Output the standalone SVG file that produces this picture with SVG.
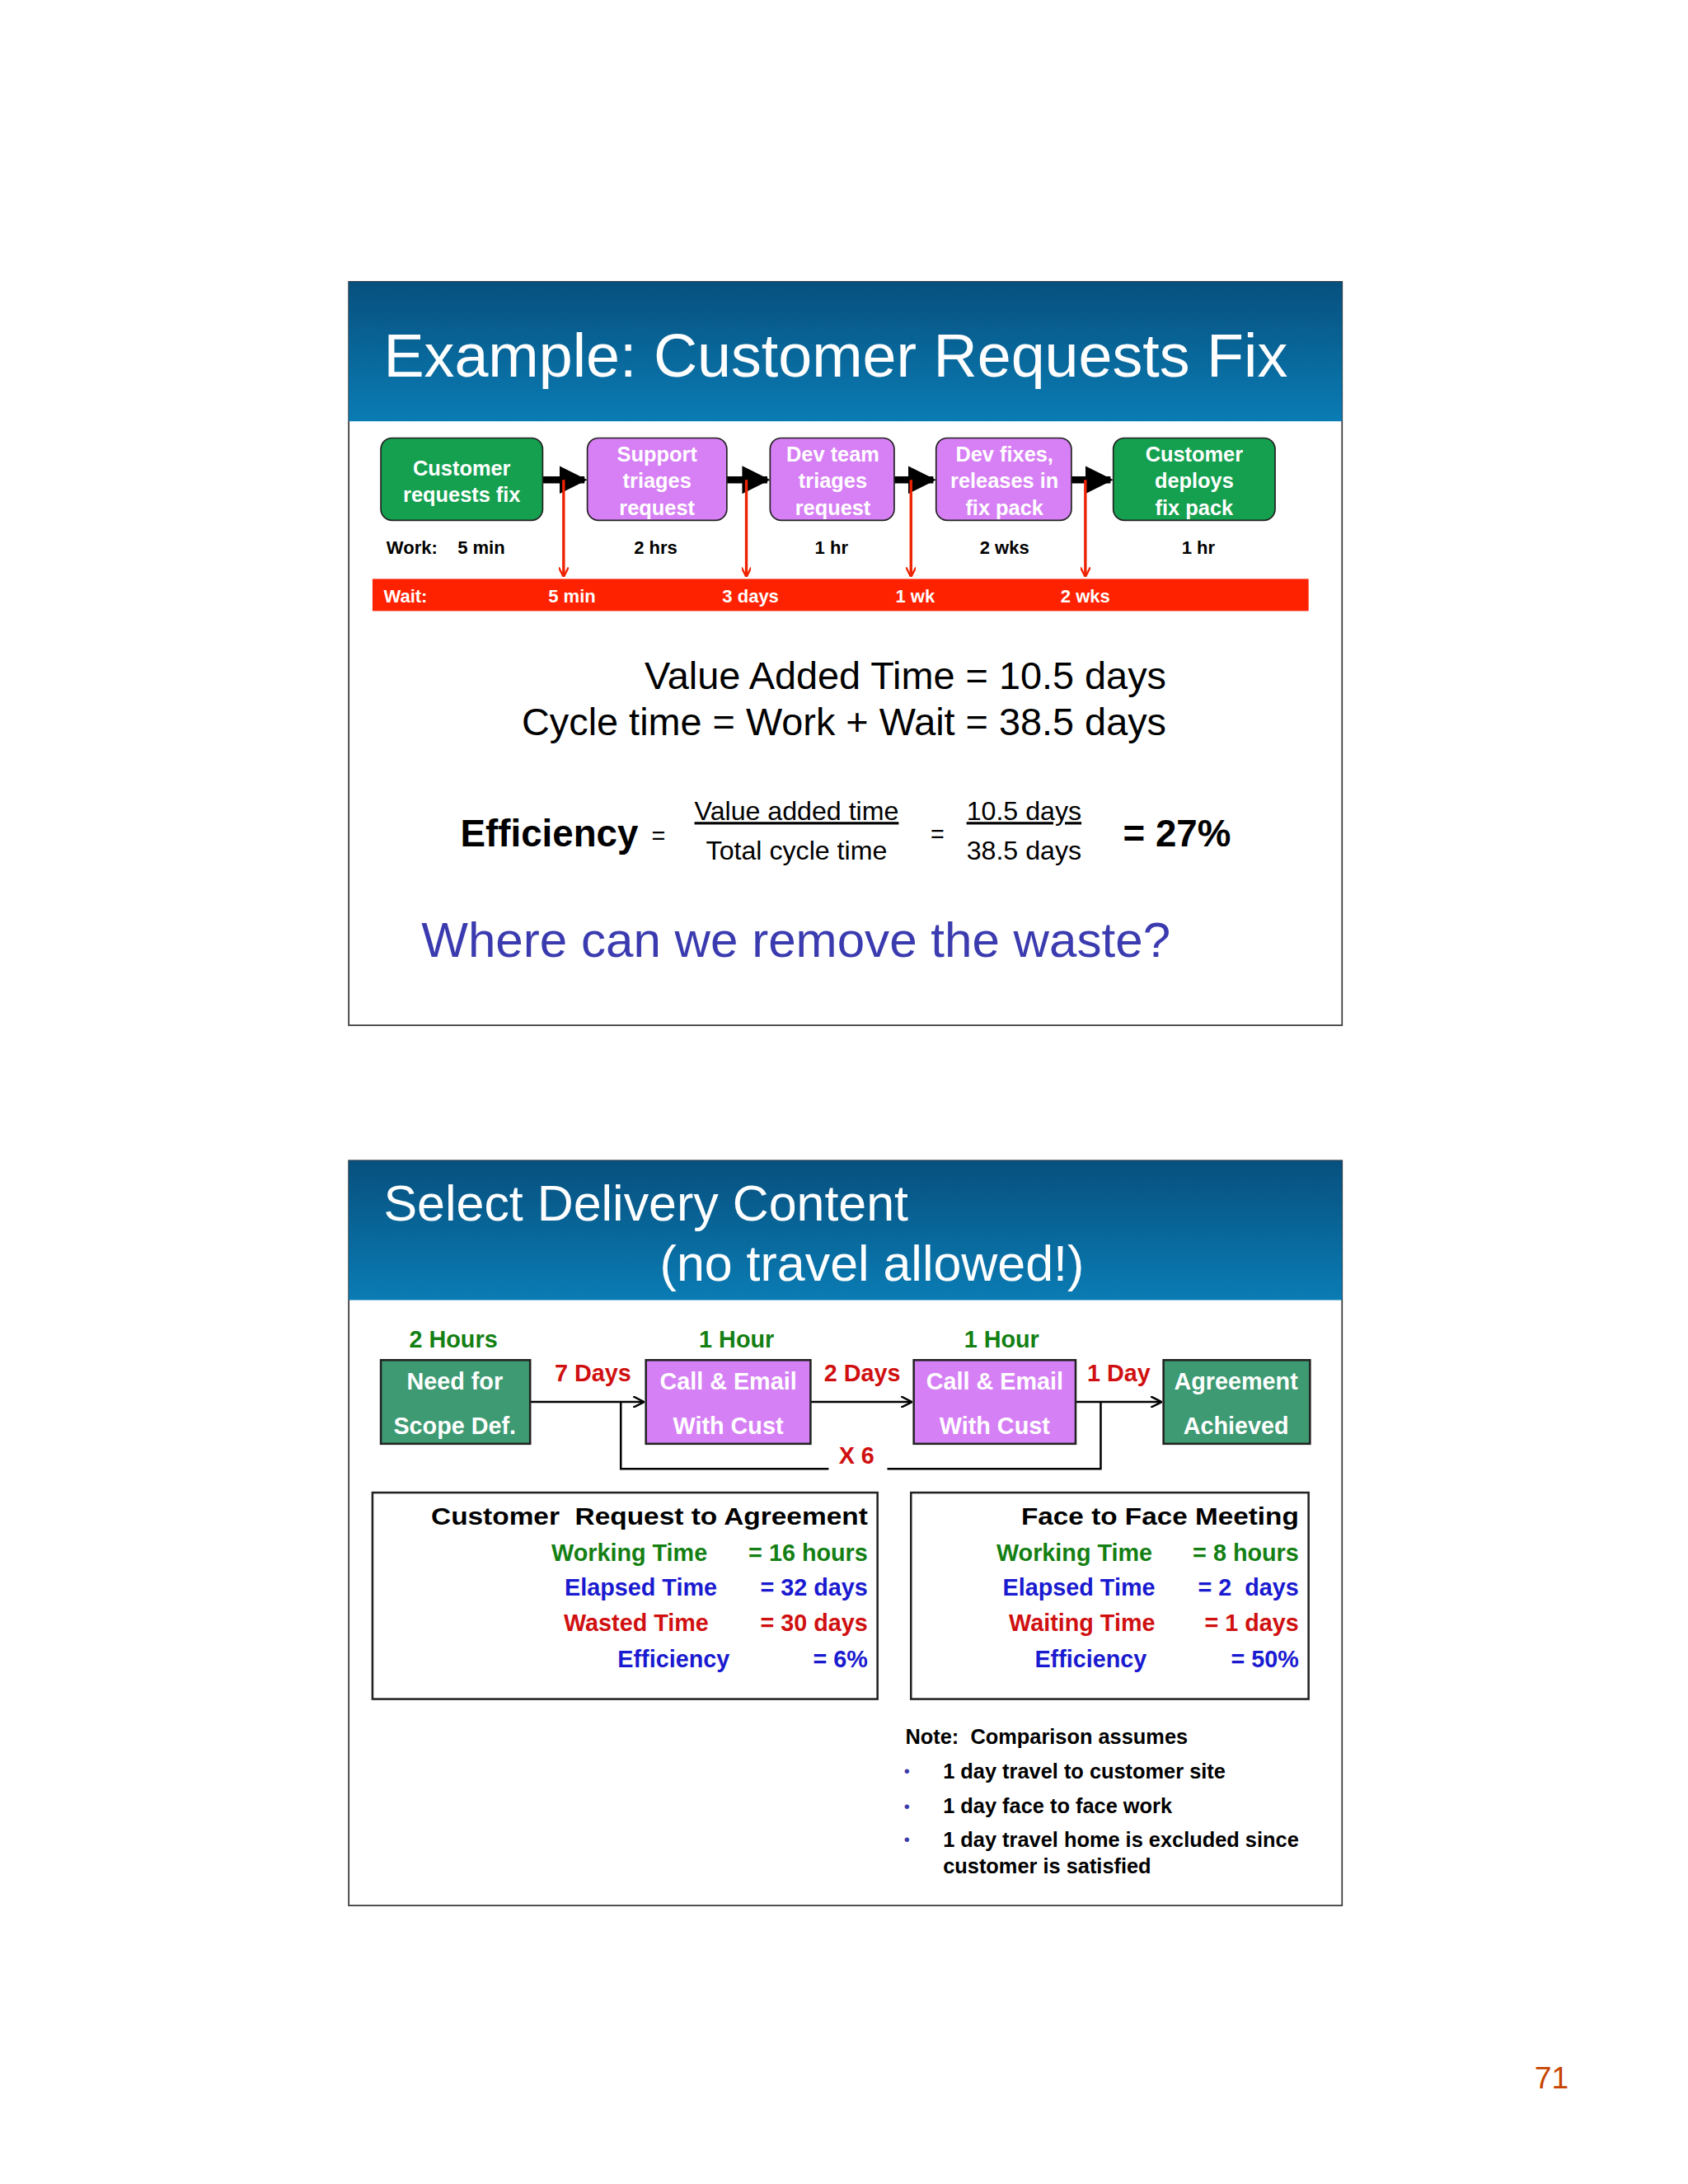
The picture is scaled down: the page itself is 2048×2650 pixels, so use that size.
<svg xmlns="http://www.w3.org/2000/svg" width="2048" height="2650" viewBox="0 0 2048 2650">
<defs>
<linearGradient id="hdr" x1="0" y1="0" x2="0" y2="1"><stop offset="0" stop-color="#07507e"/><stop offset="1" stop-color="#0a7cb4"/></linearGradient>
<marker id="blk" viewBox="0 0 10 10" refX="9" refY="5" markerWidth="4" markerHeight="4" orient="auto"><path d="M0,0 L10,5 L0,10 z" fill="#000"/></marker>
<marker id="red" viewBox="0 0 10 10" refX="9" refY="5" markerWidth="7" markerHeight="7" orient="auto" markerUnits="userSpaceOnUse"><path d="M0,0 L10,5 L0,10" fill="none" stroke="#ee2200" stroke-width="2"/></marker>
<marker id="thin" viewBox="0 0 10 10" refX="9" refY="5" markerWidth="8" markerHeight="8" orient="auto" markerUnits="userSpaceOnUse"><path d="M0,0 L10,5 L0,10" fill="none" stroke="#000" stroke-width="1.8"/></marker>
</defs>
<style>
text{font-family:"Liberation Sans",Arial,sans-serif}
.b{font-weight:bold}
.nw{fill:#fff;font-weight:bold;font-size:15px;text-anchor:middle}
.sm{font-size:13px;font-weight:bold;text-anchor:middle}
.g{fill:#15a050;stroke:#222;stroke-width:1}
.p{fill:#d77ff5;stroke:#222;stroke-width:1}
.n2{fill:#3d9a72;stroke:#222;stroke-width:1.5}
.p2{fill:#d680f5;stroke:#222;stroke-width:1.5}
.w2{fill:#fff;font-size:17px;font-weight:bold;text-anchor:middle}
.gr{fill:#148014}.bl{fill:#1a1ad0}.rd{fill:#d01010}
.r{text-anchor:end;font-weight:bold;font-size:17px}
</style>
<rect width="2048" height="2650" fill="#fff"/>
<g transform="scale(1.6926)">
<g id="slide1">
<rect x="250" y="202" width="712" height="533" fill="#fff" stroke="#333" stroke-width="1"/>
<rect x="250" y="202" width="712" height="100" fill="url(#hdr)"/>
<text x="275" y="270" font-size="44" fill="#fff" textLength="648" lengthAdjust="spacingAndGlyphs">Example: Customer Requests Fix</text>
</g>
<g id="connectors1">
<g stroke="#000" stroke-width="5" marker-end="url(#blk)">
<line x1="389" y1="344" x2="419" y2="344"/><line x1="521" y1="344" x2="550" y2="344"/>
<line x1="641" y1="344" x2="669" y2="344"/><line x1="768" y1="344" x2="796" y2="344"/>
</g>
<g stroke="#ee2200" stroke-width="2" marker-end="url(#red)">
<line x1="404" y1="344" x2="404" y2="413"/><line x1="535" y1="344" x2="535" y2="413"/>
<line x1="653" y1="344" x2="653" y2="413"/><line x1="778" y1="344" x2="778" y2="413"/>
</g>
</g>
<g id="n1"><rect class="g" x="273" y="314" width="116" height="59" rx="8"/><text class="nw" x="331" y="341">Customer</text><text class="nw" x="331" y="360">requests fix</text></g>
<g id="n2"><rect class="p" x="421" y="314" width="100" height="59" rx="8"/><text class="nw" x="471" y="331">Support</text><text class="nw" x="471" y="350">triages</text><text class="nw" x="471" y="369">request</text></g>
<g id="n3"><rect class="p" x="552" y="314" width="89" height="59" rx="8"/><text class="nw" x="597" y="331">Dev team</text><text class="nw" x="597" y="350">triages</text><text class="nw" x="597" y="369">request</text></g>
<g id="n4"><rect class="p" x="671" y="314" width="97" height="59" rx="8"/><text class="nw" x="720" y="331">Dev fixes,</text><text class="nw" x="720" y="350">releases in</text><text class="nw" x="720" y="369">fix pack</text></g>
<g id="n5"><rect class="g" x="798" y="314" width="116" height="59" rx="8"/><text class="nw" x="856" y="331">Customer</text><text class="nw" x="856" y="350">deploys</text><text class="nw" x="856" y="369">fix pack</text></g>
<g id="work">
<text x="277" y="397" font-size="13" class="b">Work:</text><text x="328" y="397" font-size="13" class="b">5 min</text>
<text class="sm" x="470" y="397">2 hrs</text><text class="sm" x="596" y="397">1 hr</text><text class="sm" x="720" y="397">2 wks</text><text class="sm" x="859" y="397">1 hr</text>
</g>
<g id="wait">
<rect x="267" y="415" width="671" height="23" fill="#ff2200"/>
<text x="275" y="432" font-size="13" class="b" fill="#fff">Wait:</text>
<text class="sm" x="410" y="432" fill="#fff">5 min</text><text class="sm" x="538" y="432" fill="#fff">3 days</text>
<text class="sm" x="656" y="432" fill="#fff">1 wk</text><text class="sm" x="778" y="432" fill="#fff">2 wks</text>
</g>
<g id="calc">
<text x="836" y="494" text-anchor="end" font-size="27" textLength="374" lengthAdjust="spacingAndGlyphs">Value Added Time = 10.5 days</text>
<text x="836" y="527" text-anchor="end" font-size="27" textLength="462" lengthAdjust="spacingAndGlyphs">Cycle time = Work + Wait = 38.5 days</text>
<text x="330" y="607" font-size="27" class="b">Efficiency</text>
<text x="467" y="605" font-size="17">=</text>
<text x="571" y="588" font-size="19" text-anchor="middle" text-decoration="underline">Value added time</text>
<text x="571" y="616" font-size="19" text-anchor="middle">Total cycle time</text>
<text x="667" y="604" font-size="17">=</text>
<text x="734" y="588" font-size="19" text-anchor="middle" text-decoration="underline">10.5 days</text>
<text x="734" y="616" font-size="19" text-anchor="middle">38.5 days</text>
<text x="805" y="607" font-size="27" class="b">= 27%</text>
<text x="302" y="686" font-size="35" fill="#3b3bb0" textLength="537" lengthAdjust="spacingAndGlyphs">Where can we remove the waste?</text>
</g>
<g id="slide2">
<rect x="250" y="832" width="712" height="534" fill="#fff" stroke="#333" stroke-width="1"/>
<rect x="250" y="832" width="712" height="100" fill="url(#hdr)"/>
<text x="275" y="875" font-size="36" fill="#fff">Select Delivery Content</text>
<text x="473" y="918" font-size="36" fill="#fff">(no travel allowed!)</text>
</g>
<g id="connectors2" stroke="#000" stroke-width="1.5" fill="none">
<line x1="380" y1="1005" x2="461" y2="1005" marker-end="url(#thin)"/>
<line x1="581" y1="1005" x2="653" y2="1005" marker-end="url(#thin)"/>
<line x1="771" y1="1005" x2="832" y2="1005" marker-end="url(#thin)"/>
<polyline points="445,1005 445,1053 594,1053"/>
<polyline points="636,1053 789,1053 789,1005"/>
</g>
<g id="m1"><rect class="n2" x="273" y="975" width="107" height="60"/><text class="w2" x="326" y="996">Need for</text><text class="w2" x="326" y="1028">Scope Def.</text></g>
<g id="m2"><rect class="p2" x="463" y="975" width="118" height="60"/><text class="w2" x="522" y="996">Call &amp; Email</text><text class="w2" x="522" y="1028">With Cust</text></g>
<g id="m3"><rect class="p2" x="655" y="975" width="116" height="60"/><text class="w2" x="713" y="996">Call &amp; Email</text><text class="w2" x="713" y="1028">With Cust</text></g>
<g id="m4"><rect class="n2" x="834" y="975" width="105" height="60"/><text class="w2" x="886" y="996">Agreement</text><text class="w2" x="886" y="1028">Achieved</text></g>
<g id="labels2" font-size="17">
<text x="325" y="966" class="gr b" text-anchor="middle">2 Hours</text>
<text x="528" y="966" class="gr b" text-anchor="middle">1 Hour</text>
<text x="718" y="966" class="gr b" text-anchor="middle">1 Hour</text>
<text x="425" y="990" class="rd b" text-anchor="middle">7 Days</text>
<text x="618" y="990" class="rd b" text-anchor="middle">2 Days</text>
<text x="802" y="990" class="rd b" text-anchor="middle">1 Day</text>
<text x="614" y="1049" class="rd b" text-anchor="middle">X 6</text>
</g>
<g id="box1">
<rect x="267" y="1070" width="362" height="148" fill="#fff" stroke="#222" stroke-width="1.5"/>
<text x="622" y="1093" class="r" font-size="19" xml:space="preserve" textLength="313" lengthAdjust="spacingAndGlyphs">Customer  Request to Agreement</text>
<text x="507" y="1119" class="r gr">Working Time</text><text x="622" y="1119" class="r gr">= 16 hours</text>
<text x="514" y="1144" class="r bl">Elapsed Time</text><text x="622" y="1144" class="r bl">= 32 days</text>
<text x="508" y="1169" class="r rd">Wasted Time</text><text x="622" y="1169" class="r rd">= 30 days</text>
<text x="523" y="1195" class="r bl">Efficiency</text><text x="622" y="1195" class="r bl">= 6%</text>
</g>
<g id="box2">
<rect x="653" y="1070" width="285" height="148" fill="#fff" stroke="#222" stroke-width="1.5"/>
<text x="931" y="1093" class="r" font-size="19" textLength="199" lengthAdjust="spacingAndGlyphs">Face to Face Meeting</text>
<text x="826" y="1119" class="r gr">Working Time</text><text x="931" y="1119" class="r gr">= 8 hours</text>
<text x="828" y="1144" class="r bl" >Elapsed Time</text><text x="931" y="1144" class="r bl" xml:space="preserve">= 2  days</text>
<text x="828" y="1169" class="r rd">Waiting Time</text><text x="931" y="1169" class="r rd">= 1 days</text>
<text x="822" y="1195" class="r bl">Efficiency</text><text x="931" y="1195" class="r bl">= 50%</text>
</g>
<g id="note">
<text x="649" y="1250" class="b" font-size="15" xml:space="preserve">Note:  Comparison assumes</text>
<text x="648" y="1274" font-size="12" fill="#3a3aaa">•</text><text x="676" y="1275" class="b" font-size="15">1 day travel to customer site</text>
<text x="648" y="1299" font-size="12" fill="#3a3aaa">•</text><text x="676" y="1300" class="b" font-size="15">1 day face to face work</text>
<text x="648" y="1323" font-size="12" fill="#3a3aaa">•</text><text x="676" y="1324" class="b" font-size="15">1 day travel home is excluded since</text>
<text x="676" y="1343" class="b" font-size="15">customer is satisfied</text>
</g>
<text x="1100" y="1497" font-size="22" fill="#c84400">71</text>
</g>
</svg>
